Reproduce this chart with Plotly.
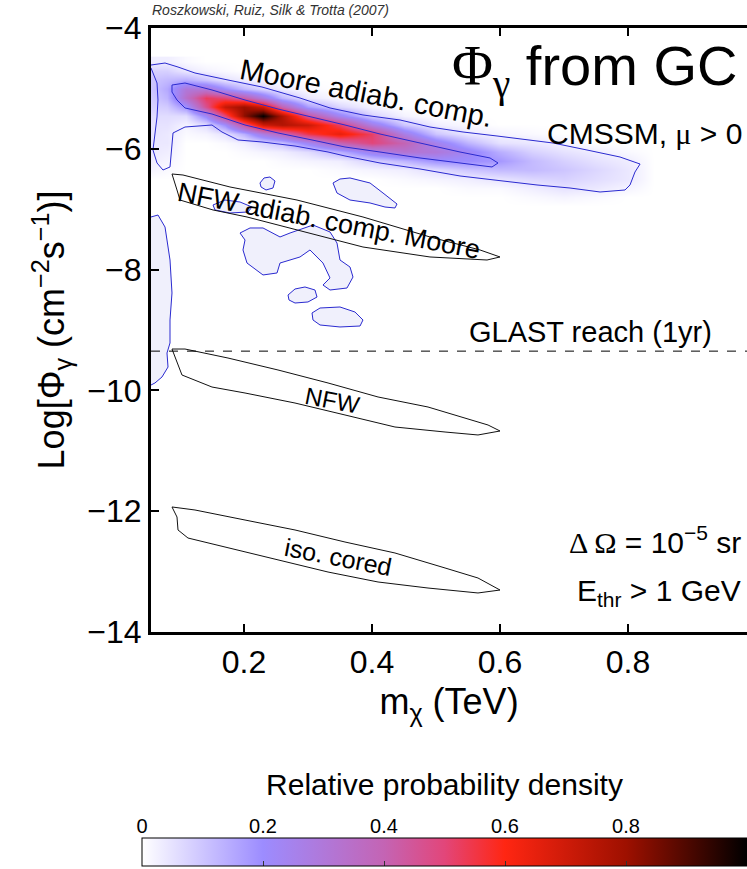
import numpy as np
import plotly.graph_objects as go

# ---------------- data ----------------
# Relative probability density grid (columns = m_chi nodes, values listed for each y node)
density_x = [0.055, 0.08, 0.11, 0.14, 0.17, 0.20, 0.23, 0.26, 0.30, 0.35,
             0.40, 0.45, 0.50, 0.55, 0.60, 0.65, 0.70, 0.75, 0.80, 0.84]
density_y = [-4.55, -4.70, -4.85, -5.00, -5.15, -5.30, -5.45, -5.60, -5.75,
             -5.90, -6.05, -6.20, -6.35, -6.50, -6.65, -6.80, -6.95]
density_by_column = [
    [0.03, 0.08, 0.10, 0.10, 0.09, 0.08, 0.06, 0.05, 0.05, 0.04, 0.04, 0.03, 0.02, 0, 0, 0, 0],
    [0.03, 0.08, 0.12, 0.15, 0.13, 0.09, 0.06, 0.05, 0.04, 0.04, 0.03, 0.02, 0.01, 0, 0, 0, 0],
    [0.01, 0.04, 0.14, 0.30, 0.34, 0.19, 0.06, 0.02, 0.01, 0, 0, 0, 0, 0, 0, 0, 0],
    [0, 0.02, 0.10, 0.30, 0.53, 0.47, 0.22, 0.06, 0.02, 0, 0, 0, 0, 0, 0, 0, 0],
    [0, 0.01, 0.05, 0.20, 0.50, 0.72, 0.50, 0.20, 0.05, 0.01, 0, 0, 0, 0, 0, 0, 0],
    [0, 0, 0.03, 0.12, 0.42, 0.80, 0.82, 0.45, 0.14, 0.03, 0.01, 0, 0, 0, 0, 0, 0],
    [0, 0, 0.02, 0.07, 0.28, 0.70, 1.00, 0.70, 0.28, 0.07, 0.02, 0, 0, 0, 0, 0, 0],
    [0, 0, 0, 0.03, 0.13, 0.40, 0.77, 0.76, 0.38, 0.11, 0.03, 0.01, 0, 0, 0, 0, 0],
    [0, 0, 0, 0.01, 0.04, 0.17, 0.45, 0.71, 0.55, 0.23, 0.06, 0.02, 0, 0, 0, 0, 0],
    [0, 0, 0, 0, 0.01, 0.07, 0.23, 0.52, 0.65, 0.40, 0.14, 0.03, 0.01, 0, 0, 0, 0],
    [0, 0, 0, 0, 0, 0.02, 0.08, 0.27, 0.52, 0.50, 0.25, 0.08, 0.02, 0, 0, 0, 0],
    [0, 0, 0, 0, 0, 0, 0.02, 0.10, 0.27, 0.40, 0.32, 0.13, 0.03, 0.01, 0, 0, 0],
    [0, 0, 0, 0, 0, 0, 0, 0.03, 0.10, 0.25, 0.30, 0.19, 0.06, 0.02, 0, 0, 0],
    [0, 0, 0, 0, 0, 0, 0, 0.01, 0.04, 0.13, 0.23, 0.20, 0.10, 0.03, 0.01, 0, 0],
    [0, 0, 0, 0, 0, 0, 0, 0, 0.02, 0.05, 0.14, 0.18, 0.12, 0.05, 0.01, 0, 0],
    [0, 0, 0, 0, 0, 0, 0, 0, 0.01, 0.04, 0.08, 0.12, 0.12, 0.07, 0.03, 0.01, 0],
    [0, 0, 0, 0, 0, 0, 0, 0, 0, 0.02, 0.05, 0.08, 0.10, 0.08, 0.05, 0.02, 0],
    [0, 0, 0, 0, 0, 0, 0, 0, 0, 0, 0.03, 0.05, 0.07, 0.06, 0.04, 0.01, 0],
    [0, 0, 0, 0, 0, 0, 0, 0, 0, 0, 0.01, 0.03, 0.04, 0.04, 0.02, 0, 0],
    [0, 0, 0, 0, 0, 0, 0, 0, 0, 0, 0, 0, 0, 0, 0, 0, 0],
]

# 95% (outer) and 68% (inner) credible contours of the Moore adiab. comp. band
outer_x = [0.0547, 0.0766, 0.0969, 0.1234, 0.175, 0.2281, 0.2875, 0.3344, 0.3859, 0.4438,
           0.4906, 0.5422, 0.5953, 0.6469, 0.6828, 0.7359, 0.7875, 0.8188, 0.8109, 0.8031,
           0.7953, 0.7563, 0.7094, 0.6578, 0.6, 0.5375, 0.475, 0.4125, 0.3578, 0.3313,
           0.2797, 0.2281, 0.1906, 0.1656, 0.15, 0.1078, 0.0891, 0.0875, 0.0844, 0.0734,
           0.0641, 0.0578, 0.0609, 0.0641, 0.0656, 0.0641, 0.0547]
outer_y = [-4.613, -4.580, -4.646, -4.745, -4.861, -4.977, -5.159, -5.324, -5.440, -5.523,
           -5.639, -5.722, -5.788, -5.854, -5.904, -6.020, -6.136, -6.252, -6.384, -6.599,
           -6.682, -6.715, -6.649, -6.599, -6.533, -6.450, -6.334, -6.235, -6.119, -6.053,
           -5.954, -5.887, -5.854, -5.722, -5.606, -5.639, -5.738, -5.970, -6.301, -6.351,
           -6.235, -6.020, -5.738, -5.474, -5.192, -4.911, -4.662]
inner_x = [0.0875, 0.1078, 0.15, 0.2016, 0.2531, 0.3063, 0.3578, 0.4125, 0.475, 0.5375,
           0.5844, 0.5969, 0.5875, 0.5375, 0.475, 0.4125, 0.3578, 0.3063, 0.2531, 0.2016,
           0.15, 0.1078, 0.0953, 0.0875, 0.0875]
inner_y = [-4.944, -4.911, -5.026, -5.192, -5.341, -5.474, -5.606, -5.755, -5.904, -6.053,
           -6.152, -6.235, -6.301, -6.235, -6.152, -6.053, -5.970, -5.854, -5.738, -5.606,
           -5.424, -5.324, -5.192, -5.060, -4.944]

# isolated low-probability islands (95% contour)
island_a_x = [0.225, 0.2313, 0.2406, 0.2484, 0.2453, 0.2344, 0.2266, 0.225]
island_a_y = [-6.566, -6.483, -6.467, -6.533, -6.649, -6.682, -6.632, -6.566]
island_b_x = [0.3391, 0.35, 0.3656, 0.3969, 0.4172, 0.4391, 0.4359, 0.4203, 0.3969, 0.3656, 0.3453, 0.3391]
island_b_y = [-6.566, -6.500, -6.483, -6.566, -6.732, -6.914, -6.980, -6.964, -6.897, -6.848, -6.732, -6.566]
island_c_x = [0.1516, 0.1703, 0.1938, 0.2125, 0.2063, 0.1781, 0.1547, 0.1516]
island_c_y = [-6.930, -6.848, -6.881, -6.964, -7.046, -7.063, -7.013, -6.930]
island_d_x = [0.1938, 0.2094, 0.2297, 0.2563, 0.2719, 0.3078, 0.3344, 0.3453, 0.35, 0.3656,
              0.3703, 0.3609, 0.3344, 0.3234, 0.3344, 0.3234, 0.3031, 0.2875, 0.2563, 0.2516,
              0.2297, 0.2047, 0.1984, 0.2016, 0.1938]
island_d_y = [-7.394, -7.311, -7.311, -7.460, -7.394, -7.262, -7.377, -7.560, -7.841, -7.957,
              -8.123, -8.305, -8.338, -8.255, -8.139, -7.891, -7.675, -7.791, -7.891, -8.056,
              -8.089, -7.891, -7.675, -7.510, -7.394]
island_e_x = [0.2688, 0.2797, 0.2953, 0.3109, 0.3141, 0.3, 0.2797, 0.2703, 0.2688]
island_e_y = [-8.421, -8.321, -8.288, -8.338, -8.454, -8.536, -8.553, -8.503, -8.421]
island_f_x = [0.3063, 0.3188, 0.35, 0.3734, 0.3859, 0.3813, 0.35, 0.3188, 0.3078, 0.3063]
island_f_y = [-8.718, -8.636, -8.619, -8.702, -8.834, -8.934, -8.950, -8.917, -8.834, -8.718]
island_g_x = [0.05, 0.0547, 0.0656, 0.0766, 0.0844, 0.0875, 0.0844, 0.0844, 0.0797, 0.0813,
              0.0719, 0.0609, 0.0547, 0.05, 0.05]
island_g_y = [-7.129, -7.129, -7.096, -7.295, -7.841, -8.387, -8.834, -9.215, -9.381, -9.613,
              -9.778, -9.877, -9.911, -9.911, -7.129]

# halo-model bands (black contours)
nfw_adiab_x = [0.0875, 0.1047, 0.1781, 0.2828, 0.3859, 0.4906, 0.5688, 0.6, 0.5797, 0.4906,
               0.3859, 0.2828, 0.2047, 0.1516, 0.1, 0.0953, 0.0891, 0.0875]
nfw_adiab_y = [-6.417, -6.434, -6.632, -6.848, -7.129, -7.460, -7.675, -7.791, -7.841, -7.791,
               -7.626, -7.344, -7.129, -7.013, -6.848, -6.682, -6.483, -6.417]
nfw_x = [0.0875, 0.1078, 0.175, 0.2531, 0.3313, 0.4094, 0.4875, 0.5406, 0.5813, 0.6, 0.5656,
         0.5141, 0.4359, 0.3578, 0.2797, 0.2016, 0.15, 0.1031, 0.0953, 0.0891, 0.0875]
nfw_y = [-9.315, -9.315, -9.464, -9.662, -9.877, -10.109, -10.275, -10.440, -10.573, -10.672,
         -10.738, -10.689, -10.606, -10.407, -10.209, -10.043, -9.944, -9.745, -9.546, -9.381, -9.315]
iso_x = [0.0875, 0.1234, 0.2016, 0.2797, 0.3578, 0.4359, 0.5141, 0.5656, 0.6, 0.5656, 0.4875,
         0.4094, 0.3313, 0.2531, 0.175, 0.1125, 0.0969, 0.0953, 0.0875]
iso_y = [-11.930, -11.980, -12.146, -12.311, -12.510, -12.692, -12.940, -13.106, -13.305, -13.354,
         -13.272, -13.172, -13.007, -12.808, -12.609, -12.444, -12.311, -12.096, -11.930]

glast_reach = -9.35
x_ticks = [0.2, 0.4, 0.6, 0.8]
y_ticks = [-14, -12, -10, -8, -6, -4]
cbar_ticks = [0, 0.2, 0.4, 0.6, 0.8, 1.0]
cbar_ticktext = ["0", "0.2", "0.4", "0.6", "0.8", "1"]

# ---------------- figure ----------------
SANS = "Liberation Sans, Arial, Helvetica, sans-serif"
BLUE = "#2a2ad0"

colorscale = [[0.0, "#ffffff"], [0.2, "#9c8cff"], [0.4, "#c464b4"], [0.5, "#e2467a"],
              [0.6, "#ff2612"], [0.8, "#9e1000"], [1.0, "#000000"]]

fig = go.Figure()
fig.add_trace(go.Heatmap(
    x=density_x, y=density_y, z=np.array(density_by_column).T,
    zmin=0, zmax=1, zsmooth="best", colorscale=colorscale, hoverinfo="skip",
    colorbar=dict(orientation="h", x=0, xanchor="left", xref="paper", len=1, lenmode="fraction",
                  y=-0.0036, yanchor="bottom", yref="paper", thickness=28, xpad=0, ypad=0,
                  outlinecolor="black", outlinewidth=1, showticklabels=False,
                  ticks="inside", ticklen=5, tickcolor="#333", tickvals=[0.2, 0.4, 0.6, 0.8]),
))

islands = [(island_a_x, island_a_y), (island_b_x, island_b_y), (island_c_x, island_c_y),
           (island_d_x, island_d_y), (island_e_x, island_e_y), (island_f_x, island_f_y),
           (island_g_x, island_g_y)]
for ix, iy in islands:
    fig.add_trace(go.Scatter(x=ix, y=iy, mode="lines", fill="toself",
                             fillcolor="rgba(240,240,252,1)", line=dict(color=BLUE, width=1),
                             hoverinfo="skip", showlegend=False))

for cx, cy in [(outer_x, outer_y), (inner_x, inner_y)]:
    fig.add_trace(go.Scatter(x=cx, y=cy, mode="lines", line=dict(color=BLUE, width=1),
                             hoverinfo="skip", showlegend=False))

for cx, cy in [(nfw_adiab_x, nfw_adiab_y), (nfw_x, nfw_y), (iso_x, iso_y)]:
    fig.add_trace(go.Scatter(x=cx, y=cy, mode="lines", line=dict(color="#111", width=1),
                             hoverinfo="skip", showlegend=False))

# invisible trace anchoring the colour-bar scale axis
fig.add_trace(go.Scatter(x=[0, 1], y=[0, 1], xaxis="x2", yaxis="y3", mode="markers",
                         marker=dict(opacity=0), hoverinfo="skip", showlegend=False))

fig.add_shape(type="line", xref="x domain", x0=0, x1=1, yref="y", y0=glast_reach, y1=glast_reach,
              line=dict(color="black", width=1, dash="dash"))

anns = [
    dict(x=0.39, y=-5.08, text="Moore adiab. comp.", textangle=11, font=dict(size=29)),
    dict(x=0.333, y=-7.2, text="NFW adiab. comp. Moore", textangle=11, font=dict(size=27)),
    dict(x=0.339, y=-10.16, text="NFW", textangle=11, font=dict(size=24)),
    dict(x=0.347, y=-12.76, text="iso. cored", textangle=11, font=dict(size=25)),
    dict(x=0.741, y=-9.03, text="GLAST reach (1yr)", font=dict(size=29)),
    dict(x=0.67, y=-5.74, xanchor="left",
         text="CMSSM, <span style='font-family:Liberation Serif'>μ</span> &gt; 0", font=dict(size=30)),
    dict(x=0.522, y=-4.7, xanchor="left",
         text="<span style='font-family:Liberation Serif'>Φ<sub>γ</sub></span> from GC", font=dict(size=56)),
    dict(x=0.98, y=-12.48, xanchor="right",
         text="<span style='font-family:Liberation Serif'>Δ Ω</span> = 10<sup>−5</sup> sr", font=dict(size=30)),
    dict(x=0.98, y=-13.35, xanchor="right", text="E<sub>thr</sub> &gt; 1 GeV", font=dict(size=30)),
]
for a in anns:
    a.setdefault("xanchor", "center")
    a.update(xref="x", yref="y", showarrow=False, yanchor="middle")
    a["font"].update(family=SANS, color="black")
    fig.add_annotation(**a)

fig.add_annotation(xref="paper", yref="paper", x=0.0132, y=1.0214, xanchor="left", yanchor="middle",
                   text="<i>Roszkowski, Ruiz, Silk &amp; Trotta (2007)</i>", showarrow=False,
                   font=dict(family=SANS, size=14, color="#333"))

fig.update_layout(
    width=747, height=869, margin=dict(l=142, r=0, t=28, b=0, autoexpand=False),
    paper_bgcolor="white", plot_bgcolor="white", showlegend=False,
    font=dict(family=SANS, color="black"),
    xaxis=dict(domain=[0.014876, 1], range=[0.0547, 0.9859], anchor="y",
               tickvals=x_ticks, ticktext=[str(v) for v in x_ticks],
               ticks="inside", ticklen=8, tickwidth=2, tickcolor="black",
               showline=True, linewidth=3, linecolor="black", mirror="ticks",
               showgrid=False, zeroline=False, tickfont=dict(size=32),
               title=dict(text="m<sub>χ</sub> (TeV)", font=dict(size=36), standoff=10)),
    yaxis=dict(domain=[0.28181, 1], range=[-14, -4], anchor="x",
               tickvals=y_ticks, ticks="inside", ticklen=8, tickwidth=2, tickcolor="black",
               showline=True, linewidth=3, linecolor="black", mirror=False,
               showgrid=False, zeroline=False, tickfont=dict(size=32),
               title=dict(text="Log[Φ<sub>γ</sub> (cm<sup>−2</sup>s<sup>−1</sup>)]",
                          font=dict(size=36), standoff=12)),
    xaxis2=dict(domain=[0, 1], range=[0, 1], anchor="y3", side="top",
                tickvals=cbar_ticks, ticktext=cbar_ticktext, ticks="", showline=False,
                showgrid=False, zeroline=False, tickfont=dict(size=20),
                title=dict(text="Relative probability density", font=dict(size=30), standoff=10)),
    yaxis3=dict(domain=[0.0036, 0.0369], range=[0, 1], anchor="x2", visible=False),
)

fig.write_html("out.html")
